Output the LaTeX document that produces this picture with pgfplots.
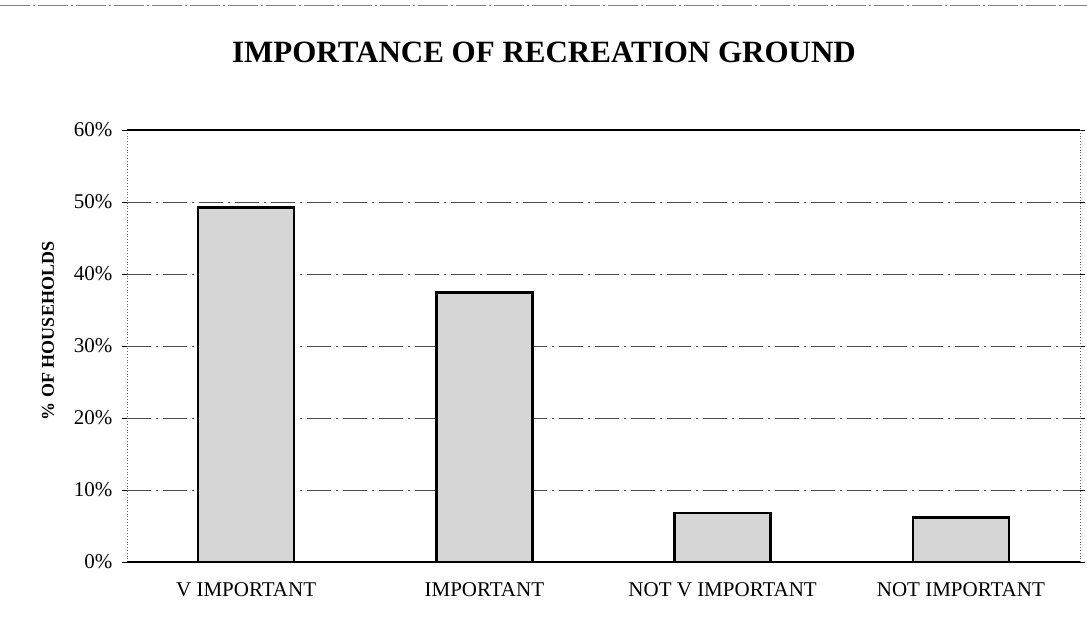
\documentclass[border=0pt]{standalone}
\usepackage{fontspec}
\setmainfont{Liberation Serif}
\usepackage{pgfplots}
\pgfplotsset{compat=1.18}
\begin{document}
\begin{tikzpicture}[x=1pt,y=1pt]
\useasboundingbox (0,0) rectangle (1087,629);
\draw[black!50, line width=0.7pt, dash pattern=on 30pt off 3pt on 2pt off 3pt] (0,624) -- (1087,624);
\node[font=\fontsize{31}{36}\selectfont\bfseries] at (544,577) {IMPORTANCE OF RECREATION GROUND};
\node[rotate=90, font=\fontsize{18}{22}\selectfont\bfseries] at (48,298) {\% OF HOUSEHOLDS};
\begin{axis}[
  at={(127pt,67pt)}, anchor=south west,
  width=953pt, height=432pt, scale only axis,
  xmin=-0.5, xmax=3.5, ymin=0, ymax=60,
  ytick={0,10,20,30,40,50,60},
  yticklabel={\pgfmathprintnumber{\tick}\%},
  xtick={0,1,2,3},
  xticklabels={V IMPORTANT, IMPORTANT, NOT V IMPORTANT, NOT IMPORTANT},
  /pgf/number format/assume math mode=true,
  tick label style={font=\fontsize{21}{24}\selectfont},
  yticklabel style={xshift=-6pt},
  xticklabel style={yshift=-12pt},
  axis line style={draw=none},
  tick align=outside,
  major tick length=5pt,
  ytick style={black, line width=0.6pt},
  xtick style={draw=none},
  ymajorgrids,
  grid style={black!70, line width=0.7pt, dash pattern=on 24pt off 5pt on 2pt off 5pt},
  clip=false,
]
\addplot[ybar, bar width=96pt, fill=black!16, draw=black, line width=2.6pt] coordinates {(0,49.2) (1,37.4) (2,6.8) (3,6.2)};
\draw[black!60, line width=0.8pt, dotted] (rel axis cs:0,0) -- (rel axis cs:0,1);
\draw[black!60, line width=0.8pt, dotted] (rel axis cs:1,0) -- (rel axis cs:1,1);
\draw[black, line width=1.2pt] (rel axis cs:0,1) -- (rel axis cs:1,1);
\draw[black, line width=1.6pt] (rel axis cs:0,0) -- (rel axis cs:1,0);
\end{axis}
\end{tikzpicture}
\end{document}
